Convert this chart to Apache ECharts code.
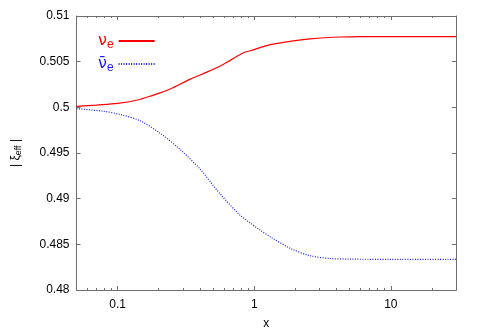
<!DOCTYPE html>
<html>
<head>
<meta charset="utf-8">
<script src="https://cdn.jsdelivr.net/npm/echarts@6/dist/echarts.min.js"></script>
<style>
  html, body { margin: 0; padding: 0; background: #fff; }
  #chart { width: 479px; height: 335px; }
</style>
</head>
<body>
<div id="chart"></div>
<script>
// nu_e curve
var xNu = [0.05, 0.07, 0.1, 0.14, 0.174, 0.243, 0.34, 0.45, 0.564, 0.667, 0.835, 0.935, 1.31, 1.55, 2.0, 2.57, 3.3, 4.26, 6, 10, 20, 30];
var yNu = [0.50010, 0.50025, 0.50043, 0.50080, 0.50123, 0.50201, 0.50309, 0.50385, 0.50453, 0.50514, 0.50597, 0.50620, 0.50687, 0.50705, 0.50730, 0.50749, 0.50762, 0.50770, 0.50774, 0.50775, 0.50775, 0.50775];
// anti nu_e curve
var xNuBar = [0.05, 0.079, 0.105, 0.146, 0.205, 0.288, 0.403, 0.564, 0.79, 0.935, 1.106, 1.31, 1.83, 2.57, 3.6, 5.04, 10, 30];
var yNuBar = [0.49986, 0.49957, 0.49921, 0.49853, 0.49716, 0.49536, 0.49320, 0.49050, 0.48817, 0.48734, 0.48655, 0.48583, 0.48457, 0.48375, 0.48345, 0.48338, 0.48336, 0.48336];

var majorX = [0.1, 1, 10];
var minorX = [0.06, 0.07, 0.08, 0.09, 0.2, 0.3, 0.4, 0.5, 0.6, 0.7, 0.8, 0.9, 2, 3, 4, 5, 6, 7, 8, 9, 20];
var yTicks = ['0.48', '0.485', '0.49', '0.495', '0.5', '0.505', '0.51'];

var frame = '#6e6e6e';
var font = 'Liberation Sans, Arial, sans-serif';

function zip(xs, ys) {
  return xs.map(function (x, i) { return [x, ys[i]]; });
}

function xAx(pos, ticks, len, labels) {
  return {
    type: 'log', position: pos, min: 0.05, max: 30,
    axisLine: { show: true, lineStyle: { color: frame, width: 1 } },
    axisTick: { show: true, inside: true, length: len, customValues: ticks, lineStyle: { color: frame } },
    axisLabel: labels ? {
      show: true, customValues: majorX, color: '#000', fontFamily: font, fontSize: 12, margin: 9,
      formatter: function (v) { return String(+v.toPrecision(3)); }
    } : { show: false },
    splitLine: { show: false },
    name: labels ? 'x' : '',
    nameLocation: 'middle', nameGap: 28,
    nameTextStyle: { color: '#000', fontFamily: font, fontSize: 12 }
  };
}

var chart = echarts.init(document.getElementById('chart'), null, { renderer: 'canvas' });
chart.setOption({
  animation: false,
  grid: { left: 76, right: 23, top: 16, bottom: 41, show: false },
  legend: {
    orient: 'vertical', left: 93, top: 26, align: 'right',
    itemWidth: 36, itemHeight: 14, itemGap: 3,
    itemStyle: { opacity: 0 },
    data: [
      { name: 'nu', textStyle: { color: '#ff0000' } },
      { name: 'nubar', textStyle: { color: '#1a1aff' } }
    ],
    formatter: function (n) {
      return n === 'nu' ? '{g|ν}{s|e}' : '{g|ν̄}{s|e}';
    },
    textStyle: {
      fontFamily: font,
      rich: {
        g: { fontSize: 16, fontFamily: 'DejaVu Sans', lineHeight: 18 },
        s: { fontSize: 12, fontFamily: font, lineHeight: 18, padding: [8, 0, 0, 0] }
      }
    }
  },
  xAxis: [
    xAx('bottom', majorX, 4, true),
    xAx('bottom', minorX, 2, false),
    xAx('top', majorX, 4, false),
    xAx('top', minorX, 2, false)
  ],
  yAxis: [
    {
      type: 'value', position: 'left', min: 0.48, max: 0.51, interval: 0.005,
      axisLine: { show: true, lineStyle: { color: frame } },
      axisTick: { show: true, inside: true, length: 4, lineStyle: { color: frame } },
      axisLabel: {
        color: '#000', fontFamily: font, fontSize: 12, margin: 7,
        formatter: function (v, i) { return yTicks[i]; }
      },
      splitLine: { show: false },
      name: '{b||} {g|ξ}{s|eff} {b||}',
      nameLocation: 'middle', nameRotate: 90, nameGap: 54,
      nameTextStyle: {
        color: '#000', fontFamily: font,
        rich: {
          b: { fontSize: 12, fontFamily: font, lineHeight: 14 },
          g: { fontSize: 12, fontFamily: font, lineHeight: 14 },
          s: { fontSize: 9, fontFamily: font, lineHeight: 14, padding: [6, 0, 0, 0] }
        }
      }
    },
    {
      type: 'value', position: 'right', min: 0.48, max: 0.51, interval: 0.005,
      axisLine: { show: true, lineStyle: { color: frame } },
      axisTick: { show: true, inside: true, length: 4, lineStyle: { color: frame } },
      axisLabel: { show: false },
      splitLine: { show: false }
    }
  ],
  series: [
    {
      name: 'nu', type: 'line', data: zip(xNu, yNu), smooth: 0.3,
      showSymbol: false, symbol: 'none',
      lineStyle: { color: '#ff0000', width: 1.2 },
      itemStyle: { color: '#ff0000' }
    },
    {
      name: 'nubar', type: 'line', data: zip(xNuBar, yNuBar), smooth: 0.3,
      showSymbol: false, symbol: 'none',
      lineStyle: { color: '#1a1aff', width: 1.2, type: [1, 1.5] },
      itemStyle: { color: '#1a1aff' }
    }
  ]
});
</script>
</body>
</html>
